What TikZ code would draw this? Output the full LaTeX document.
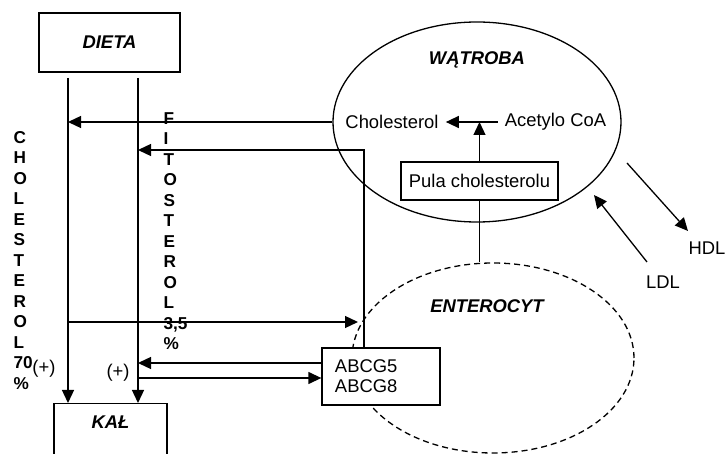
\documentclass[tikz,border=0pt]{standalone}
\usepackage{fontspec}
\setmainfont{Liberation Sans}
\usepackage{tikz}
\usetikzlibrary{arrows.meta,shapes,positioning}

\tikzset{
  box/.style={draw, rectangle, inner sep=0pt, fill=white},
  arr/.style={-{Triangle[length=6.5pt,width=6pt]}},
  txt/.style={font=\fontsize{9.2}{10}\selectfont},
  title/.style={font=\fontsize{9.2}{11}\selectfont\bfseries\itshape},
  vert/.style={font=\fontsize{8.6}{10.25}\selectfont\bfseries, align=left, inner sep=0pt, anchor=west},
  cell/.style={draw, ellipse, inner sep=0pt},
}

\begin{document}
\begin{tikzpicture}[x=0.5pt, y=-0.5pt, line width=0.65pt]
\useasboundingbox (0,0) rectangle (725,454);
\clip (0,0) rectangle (725,454);

% diet and faeces
\node[box, title, minimum width=70.5pt, minimum height=29.5pt] (dieta) at (109.5,42.5) {DIETA};
\node[box, title, anchor=north, minimum width=56.5pt, inner ysep=6pt, text height=6.5pt, text depth=11pt] (kal) at (110.5,403) {KAŁ};

% liver
\node[cell, minimum width=144pt, minimum height=100pt] (watroba) at (477,122) {};
\node[title] (watroba-t) at (477,60) {WĄTROBA};
\node[txt] (chol) at (392,122) {Cholesterol};
\node[txt] (acetyl) at (555.5,122) {Acetylo CoA};
\node[box, txt, minimum width=78.5pt, minimum height=19pt] (pula) at (479.5,181) {Pula cholesterolu};

% enterocyte
\node[cell, dash pattern=on 3pt off 2pt, minimum width=141pt, minimum height=95pt] (entero) at (493,358) {};
\node[title] (entero-t) at (487,306) {ENTEROCYT};
\node[box, txt, text width=46pt, inner xsep=6.5pt, minimum height=28.5pt, align=left] (abcg) at (381,376.5) {ABCG5\\ABCG8};

% side labels
\node[vert] (chol-v) at (13,260.5) {C\\H\\O\\L\\E\\S\\T\\E\\R\\O\\L\\70\\\%};
\node[vert] (fito-v) at (163,231) {F\\I\\T\\O\\S\\T\\E\\R\\O\\L\\3,5\\\%};
\node[txt] (plus1) at (44,369) {(+)};
\node[txt] (plus2) at (118,373) {(+)};
\node[txt] (ldl) at (663,282) {LDL};
\node[txt] (hdl) at (707,248) {HDL};

\coordinate (chol-in) at (68,78);
\coordinate (fito-in) at (138,78);
\coordinate (abcg-up) at (364,348);
\coordinate (fito-back) at (138,150);
\coordinate (to-ent) at (68,322);
\coordinate (ent-in) at (358,322);
\coordinate (out-row) at (138,363);
\coordinate (in-row) at (138,378);
\coordinate (ldl-from) at (647,262);
\coordinate (ldl-to) at (594,195);
\coordinate (hdl-from) at (627,163);
\coordinate (hdl-to) at (688,231);

\draw[arr] (chol-in) -- (chol-in |- kal.north);
\draw[arr] (fito-in) -- (fito-in |- kal.north);
\draw[arr] (watroba.west) -- (watroba.west -| chol-in);
\draw[arr] (abcg-up) |- (fito-back);
\draw[arr] (to-ent) -- (ent-in);
\draw[arr] (out-row -| abcg.west) -- (out-row);
\draw[arr] (in-row) -- (in-row -| abcg.west);
\draw[arr] (acetyl.west) -- (chol.east);
\draw[arr] (pula.north) -- (pula.north |- acetyl);
\draw (pula.south) -- (pula.south |- entero.north);
\draw[arr] (ldl-from) -- (ldl-to);
\draw[arr] (hdl-from) -- (hdl-to);
\end{tikzpicture}
\end{document}
